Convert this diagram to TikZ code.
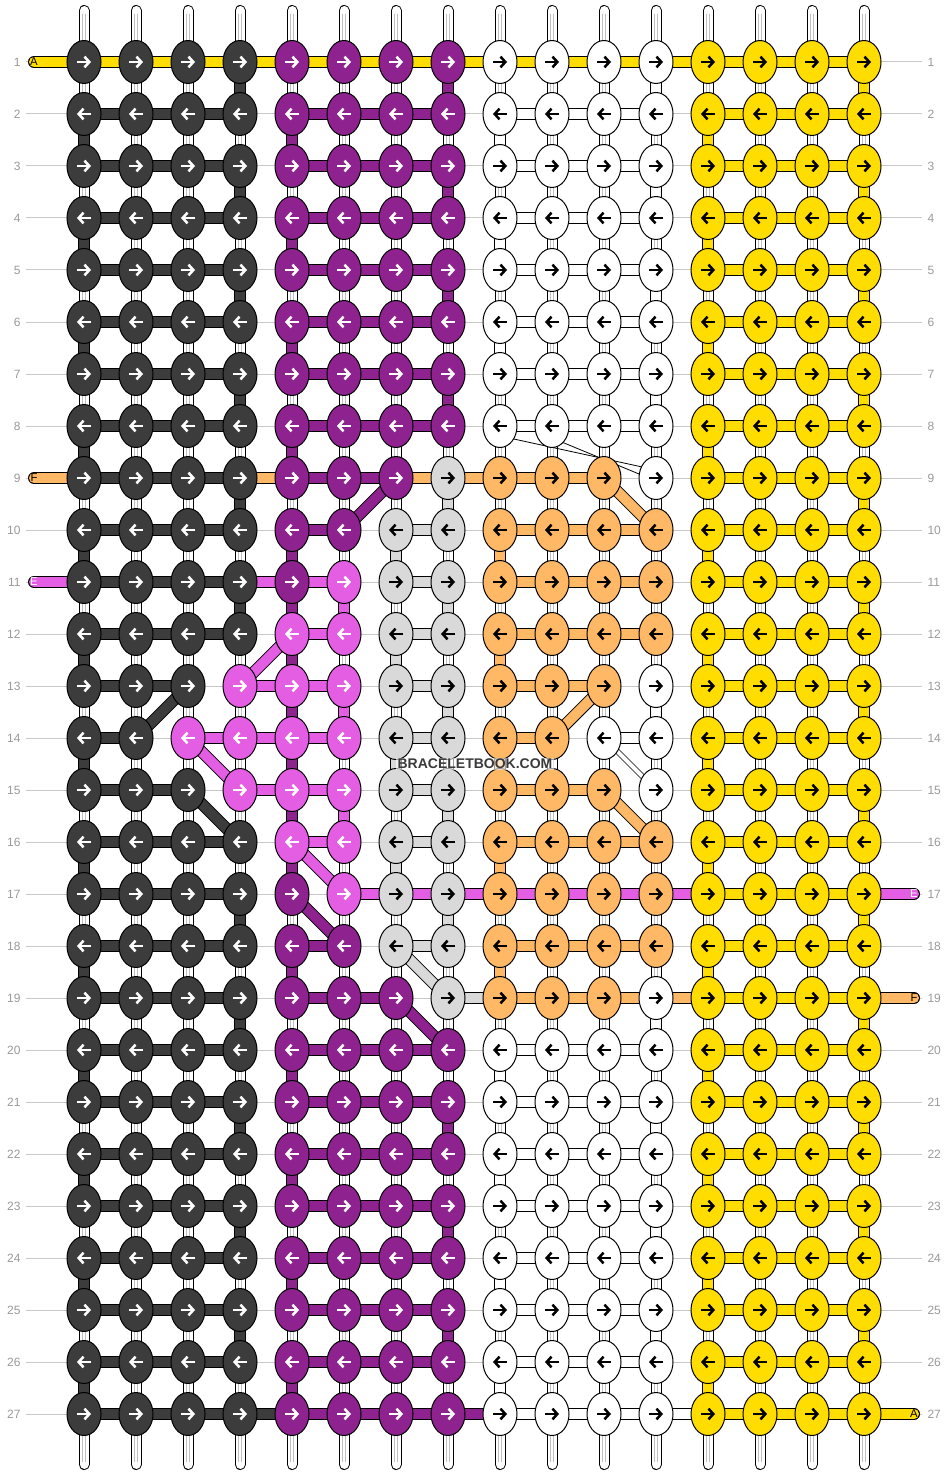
\documentclass[tikz,border=0pt]{standalone}
\usepackage{fontspec}
\setmainfont{Liberation Sans}
\usetikzlibrary{arrows.meta,calc,shapes.geometric}

\definecolor{knotD}{HTML}{3C3C3C}
\definecolor{knotP}{HTML}{8E238F}
\definecolor{knotW}{HTML}{FFFFFF}
\definecolor{knotY}{HTML}{FFDD00}
\definecolor{knotO}{HTML}{FFB866}
\definecolor{knotK}{HTML}{E35EE3}
\definecolor{knotG}{HTML}{D9D9D9}
\colorlet{arrD}{white}
\colorlet{arrP}{white}
\colorlet{arrK}{white}
\colorlet{arrW}{black}
\colorlet{arrY}{black}
\colorlet{arrO}{black}
\colorlet{arrG}{black}
\definecolor{guidegray}{HTML}{C8C8C8}
\definecolor{numgray}{HTML}{9A9A9A}
\definecolor{markgray}{HTML}{3A3A3A}

\pgfdeclarelayer{back}
\pgfsetlayers{back,main}

\tikzset{every picture/.style={line width=0.75pt}}
\tikzset{
  knot/.style={ellipse, draw=black, inner sep=0pt, minimum width=25.5pt, minimum height=32.25pt},
  link/.style={draw=black, double=#1, double distance=7.5pt, line width=0.75pt},
  slim/.style={draw=black, double=#1, double distance=3pt, line width=0.6pt},
  hair/.style={draw=black, line width=0.6pt},
  warp/.style={draw=black, double=white, double distance=6.75pt, line width=0.75pt, line cap=round},
  warpcore/.style={draw=black!25, double=white, double distance=1.2pt, line width=0.6pt},
  guide/.style={draw=guidegray, line width=0.75pt},
  arrowmark/.style={line width=1.9pt, -{Straight Barb[length=3.6pt,width=8pt]}},
  rownum/.style={font=\fontsize{9}{10}\selectfont, text=numgray, inner sep=3.75pt},
  endlabel/.style={font=\fontsize{8.5}{10}\selectfont, inner sep=0pt},
}

\begin{document}
\begin{tikzpicture}[x=0.75pt,y=0.75pt,yscale=-1,xscale=1]
\useasboundingbox (0,0) rectangle (948,1476);

%Knots, one row of the pattern per entry
\foreach \rw/\pat in {
  1/{D,D,D,D,P,P,P,P,W,W,W,W,Y,Y,Y,Y},
  2/{D,D,D,D,P,P,P,P,W,W,W,W,Y,Y,Y,Y},
  3/{D,D,D,D,P,P,P,P,W,W,W,W,Y,Y,Y,Y},
  4/{D,D,D,D,P,P,P,P,W,W,W,W,Y,Y,Y,Y},
  5/{D,D,D,D,P,P,P,P,W,W,W,W,Y,Y,Y,Y},
  6/{D,D,D,D,P,P,P,P,W,W,W,W,Y,Y,Y,Y},
  7/{D,D,D,D,P,P,P,P,W,W,W,W,Y,Y,Y,Y},
  8/{D,D,D,D,P,P,P,P,W,W,W,W,Y,Y,Y,Y},
  9/{D,D,D,D,P,P,P,G,O,O,O,W,Y,Y,Y,Y},
  10/{D,D,D,D,P,P,G,G,O,O,O,O,Y,Y,Y,Y},
  11/{D,D,D,D,P,K,G,G,O,O,O,O,Y,Y,Y,Y},
  12/{D,D,D,D,K,K,G,G,O,O,O,O,Y,Y,Y,Y},
  13/{D,D,D,K,K,K,G,G,O,O,O,W,Y,Y,Y,Y},
  14/{D,D,K,K,K,K,G,G,O,O,W,W,Y,Y,Y,Y},
  15/{D,D,D,K,K,K,G,G,O,O,O,W,Y,Y,Y,Y},
  16/{D,D,D,D,K,K,G,G,O,O,O,O,Y,Y,Y,Y},
  17/{D,D,D,D,P,K,G,G,O,O,O,O,Y,Y,Y,Y},
  18/{D,D,D,D,P,P,G,G,O,O,O,O,Y,Y,Y,Y},
  19/{D,D,D,D,P,P,P,G,O,O,O,W,Y,Y,Y,Y},
  20/{D,D,D,D,P,P,P,P,W,W,W,W,Y,Y,Y,Y},
  21/{D,D,D,D,P,P,P,P,W,W,W,W,Y,Y,Y,Y},
  22/{D,D,D,D,P,P,P,P,W,W,W,W,Y,Y,Y,Y},
  23/{D,D,D,D,P,P,P,P,W,W,W,W,Y,Y,Y,Y},
  24/{D,D,D,D,P,P,P,P,W,W,W,W,Y,Y,Y,Y},
  25/{D,D,D,D,P,P,P,P,W,W,W,W,Y,Y,Y,Y},
  26/{D,D,D,D,P,P,P,P,W,W,W,W,Y,Y,Y,Y},
  27/{D,D,D,D,P,P,P,P,W,W,W,W,Y,Y,Y,Y}} {
  \pgfmathsetmacro\dir{1-2*mod(\rw+1,2)}
  \pgfmathsetmacro\xa{-7*\dir}
  \pgfmathsetmacro\xb{7*\dir}
  \foreach \kc [count=\ci] in \pat {
    \node[knot, fill=knot\kc] (k-\rw-\ci) at ({84+52*(\ci-1)},{62+52*(\rw-1)}) {};
    \draw[arrowmark, draw=arr\kc] ($(k-\rw-\ci)+(\xa,0)$) -- ($(k-\rw-\ci)+(\xb,0)$);
  }
  % Text Node
  \node[rownum, anchor=east] (nl-\rw) at (26,{62+52*(\rw-1)}) {\rw};
  \node[rownum, anchor=west] (nr-\rw) at (922,{62+52*(\rw-1)}) {\rw};
}

% Text Node
\node[endlabel] (capA1) at (34,62) {A};
\node[endlabel] (capF1) at (34,478) {F};
\node[endlabel, text=white] (capE1) at (34,582) {E};
\node[endlabel, text=white] (capE2) at (914,894) {E};
\node[endlabel] (capF2) at (914,998) {F};
\node[endlabel] (capA2) at (914,1414) {A};

% Text Node
\node[font=\fontsize{10.5}{12}\selectfont\bfseries, text=markgray, fill=white, fill opacity=0.6, text opacity=1, inner sep=1pt] (mark) at (475,764) {BRACELETBOOK.COM};

\begin{pgfonlayer}{back}
\fill[white] (0,0) rectangle (948,1476);

%Guide lines
\foreach \rw in {1,...,27}
  \draw[guide] (nl-\rw.east) -- (nr-\rw.west);

%Warp strands
\foreach \ci in {1,...,16} {
  \draw[warp] ($(k-1-\ci)+(0,-51.5)$) -- ($(k-27-\ci)+(0,50.5)$);
  \draw[warpcore] ($(k-1-\ci)+(0,-48)$) -- ($(k-27-\ci)+(0,48)$);
}

%Purple carried behind the pink
\draw[link=knotP] (k-11-5.center) -- (k-17-5.center);

%Turns at the ends of the rows
\foreach \cl/\ci/\rows in {D/4/{1,3,5,7,9,11,17,19,21,23,25}, D/1/{2,4,...,26},
    P/8/{1,3,5,7,21,23,25}, P/5/{2,4,6,8,10,18,20,22,24,26},
    W/12/{1,3,5,7,19,21,23,25}, W/9/{2,4,6,20,22,24,26},
    Y/16/{1,3,...,25}, Y/13/{2,4,...,26}}
  \foreach \rw in \rows {
    \pgfmathtruncatemacro\nx{\rw+1}
    \draw[link=knot\cl] (k-\rw-\ci.center) -- (k-\nx-\ci.center);
  }

%Turns and steps inside the motif
\foreach \ra/\ca/\rb/\cb/\cl in {13/3/14/2/D, 15/3/16/4/D,
    9/7/10/6/P, 17/5/18/6/P, 19/7/20/8/P, 13/12/14/12/W,
    9/11/10/12/O, 10/9/11/9/O, 12/9/13/9/O, 13/11/14/10/O,
    14/9/15/9/O, 15/11/16/12/O, 16/9/17/9/O, 18/9/19/9/O,
    9/8/10/8/G, 10/7/11/7/G, 11/8/12/8/G, 12/7/13/7/G, 13/8/14/8/G,
    14/7/15/7/G, 15/8/16/8/G, 16/7/17/7/G, 17/8/18/8/G, 18/7/19/8/G,
    11/6/12/6/K, 12/5/13/4/K, 13/6/14/6/K, 14/3/15/4/K, 15/6/16/6/K, 16/5/17/6/K}
  \draw[link=knot\cl] (k-\ra-\ca.center) -- (k-\rb-\cb.center);
\draw[slim=white] (k-14-11.center) -- (k-15-12.center);
\draw[hair] ($(k-8-9)+(0,10)$) -- ($(k-9-12)+(0,-8)$);
\draw[hair] ($(k-8-10)+(0,12)$) -- ($(k-9-12)+(0,3)$);

%Rows, whole sections
\foreach \cl/\first/\rows in {D/1/{2,3,...,12,16,17,...,27}, P/5/{2,3,...,8,20,21,...,27},
    W/9/{2,3,...,8,20,21,...,27}, Y/13/{2,3,...,27}, O/9/{10,11,12,16,18},
    K/9/{17}}
  \foreach \rw in \rows
    \foreach \i in {0,1,2} {
      \pgfmathtruncatemacro\a{\first+\i}
      \pgfmathtruncatemacro\b{\a+1}
      \draw[link=knot\cl] (k-\rw-\a.center) -- (k-\rw-\b.center);
    }

%Rows, parts of sections
\foreach \a in {1,...,15} {
  \pgfmathtruncatemacro\b{\a+1}
  \draw[link=knotY] (k-1-\a.center) -- (k-1-\b.center);
}
\foreach \rw/\a/\b/\cl in {9/4/5/O, 9/5/6/P, 9/6/7/P, 9/7/8/O, 9/8/9/O, 9/9/10/O, 9/10/11/O,
    10/5/6/P, 10/7/8/G, 11/4/5/K, 11/5/6/K, 11/7/8/G, 12/5/6/K, 12/7/8/G,
    13/1/2/D, 13/2/3/D, 13/4/5/K, 13/5/6/K, 13/7/8/G, 13/9/10/O, 13/10/11/O,
    14/1/2/D, 14/3/4/K, 14/4/5/K, 14/5/6/K, 14/7/8/G, 14/9/10/O, 14/11/12/W,
    15/1/2/D, 15/2/3/D, 15/4/5/K, 15/5/6/K, 15/7/8/G, 15/9/10/O, 15/10/11/O,
    16/5/6/K, 16/7/8/G, 17/6/7/K, 17/7/8/K, 17/8/9/K, 17/12/13/K,
    18/5/6/P, 18/7/8/G, 19/5/6/P, 19/6/7/P, 19/8/9/G, 19/9/10/O, 19/10/11/O,
    19/11/12/O, 19/12/13/O, 27/4/5/D, 27/8/9/P, 27/12/13/W}
  \draw[link=knot\cl] (k-\rw-\a.center) -- (k-\rw-\b.center);

%Loose ends
\draw[link=knotY, line cap=round] (capA1.center) -- (k-1-1.center);
\draw[link=knotO, line cap=round] (capF1.center) -- (k-9-1.center);
\draw[link=knotK, line cap=round] (capE1.center) -- (k-11-1.center);
\draw[link=knotK, line cap=round] (capE2.center) -- (k-17-16.center);
\draw[link=knotO, line cap=round] (capF2.center) -- (k-19-16.center);
\draw[link=knotY, line cap=round] (capA2.center) -- (k-27-16.center);
\end{pgfonlayer}

\end{tikzpicture}
\end{document}
